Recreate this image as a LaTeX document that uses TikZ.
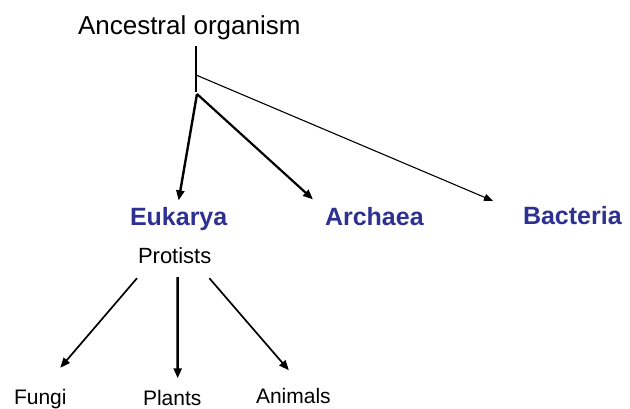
\documentclass[tikz,border=0pt]{standalone}
\usepackage{fontspec}
\setmainfont{Liberation Sans}
\usetikzlibrary{arrows.meta,calc}
\definecolor{domblue}{RGB}{46,49,146}
\tikzset{
  lbl/.style={inner sep=0pt, outer sep=0pt, anchor=base west, font=\fontsize{21}{21}\selectfont},
  toplbl/.style={lbl, font=\fontsize{26}{26}\selectfont},
  domlbl/.style={lbl, font=\fontsize{25}{25}\selectfont\bfseries, text=domblue},
  arr/.style={-{Triangle[length=10pt,width=8pt]}, line width=1.7pt},
  thinarr/.style={-{Triangle[length=9pt,width=7pt]}, line width=1.1pt},
  stem/.style={line width=1.3pt}
}
\begin{document}
\begin{tikzpicture}[x=1pt,y=-1pt]
\useasboundingbox (0,0) rectangle (630,409);
\node[toplbl] (anc) at (78,35) {Ancestral organism};
\node[domlbl] (euk) at (130,225.5) {Eukarya};
\node[domlbl] (arch) at (325,225.5) {Archaea};
\node[domlbl] (bact) at (523,225) {Bacteria};
\node[lbl, font=\fontsize{22}{22}\selectfont] (prot) at (138,264) {Protists};
\node[lbl] (fungi) at (14,404) {Fungi};
\node[lbl] (plants) at (143,405) {Plants};
\node[lbl] (animals) at (256,403) {Animals};
\coordinate (top) at (196,46);
\coordinate (bot) at (196,92);
\coordinate (jb) at (196,75);
\coordinate (je) at (197,94);
\draw[stem] (top) -- (bot);
\draw[arr, line width=2.4pt] (je) -- ($(euk.north)+(0,-7)$);
\draw[arr, line width=2.2pt] (je) -- ($(arch.north west)+(-12,-8)$);
\draw[thinarr] (jb) -- ($(bact.north west)+(-30,-6)$);
\draw[arr] ($(prot.south west)+(-1,14)$) -- ($(fungi.north)+(20,-21)$);
\draw[arr, line width=2.6pt] ($(prot.south)+(3,13)$) -- ($(plants.north)+(5.5,-11.5)$);
\draw[arr] ($(prot.south east)+(-2,14)$) -- ($(animals.north)+(-4.5,-17.5)$);
\end{tikzpicture}
\end{document}
